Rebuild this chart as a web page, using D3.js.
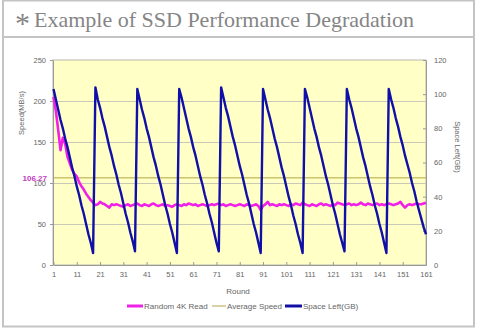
<!DOCTYPE html>
<html>
<head>
<meta charset="utf-8">
<script src="https://cdn.jsdelivr.net/npm/d3@7"></script>
<style>
body{margin:0;background:#fff;}
</style>
</head>
<body>
<script>
// rounds 1..161
var rounds = d3.range(1, 162)

// Random 4K Read speed (MB/s), one value per round
var speed = [205,188,165,140,155,148,132,124,116,111,
  108,101,96,92,87,83,79,76,73,74,
  77,75,74,72,70,74,73,74,73,72,
  71,73,74,72,73,74,75,73,72,74,
  73,72,74,75,73,72,73,74,72,73,
  72,71,73,74,73,72,74,73,75,74,
  73,74,72,73,74,73,72,73,74,73,
  74,75,73,74,72,73,74,73,72,73,
  74,73,72,74,73,72,73,74,72,67,
  72,74,77,73,74,73,72,74,73,74,
  73,72,74,73,75,74,73,76,74,73,
  72,74,73,72,74,75,73,74,73,72,
  74,73,76,75,74,73,74,75,73,74,
  73,74,76,74,73,75,74,73,74,75,
  73,74,73,74,75,74,73,74,75,77,
  73,70,73,74,73,74,75,74,74,75,
  76]

// Space left (GB), one value per round
var spaceLeft = [103,97,91,85,80,74,69,63,57,52,46,41,35,30,24,18,13,7,
  104,97,92,86,81,75,69,64,58,53,47,42,36,30,25,19,14,8,
  103,97,91,86,80,75,69,63,58,52,47,41,35,30,24,19,13,7,
  103,98,92,86,80,75,69,64,58,52,47,41,36,30,25,19,13,8,
  104,98,92,87,81,75,70,64,58,53,47,41,36,30,24,19,13,7,
  103,97,91,86,80,74,69,63,57,52,46,40,35,29,24,18,13,7,
  103,98,92,86,80,75,69,64,58,52,47,41,35,30,24,18,13,8,
  103,97,92,86,80,75,69,63,58,52,46,41,35,30,24,19,13,7,
  103,97,92,86,81,75,70,64,59,54,48,43,37,32,27,22,18]

var averageSpeed = 106.27
var speedTicks = [0,50,100,150,200,250]
var spaceTicks = [0,20,40,60,80,100,120]
var roundTicks = [1,11,21,31,41,51,61,71,81,91,101,111,121,131,141,151,161]

var W = 480, H = 328
var plot = {left:53, right:426, top:60, bottom:265}
var font = "'Liberation Sans', Arial, sans-serif"

var svg = d3.select('body').append('svg')
  .attr('width', W).attr('height', H)

svg.append('rect').attr('width', W).attr('height', H).attr('fill', '#fff')

// frame
svg.append('rect')
  .attr('x', 3).attr('y', 0.5).attr('width', 471).attr('height', 326)
  .attr('fill', 'none').attr('stroke', '#c4c4c4').attr('stroke-width', 2)
svg.append('line')
  .attr('x1', 3).attr('x2', 474).attr('y1', 37).attr('y2', 37)
  .attr('stroke', '#c4c4c4').attr('stroke-width', 2)

// title
svg.append('text')
  .attr('x', 15).attr('y', 33)
  .attr('font-family', "'Liberation Serif', 'Times New Roman', serif")
  .attr('font-size', 30).attr('fill', '#858585')
  .text('*')
svg.append('text')
  .attr('x', 34).attr('y', 27)
  .attr('font-family', "'Liberation Serif', 'Times New Roman', serif")
  .attr('font-size', 22).attr('fill', '#858585')
  .text('Example of SSD Performance Degradation')

var x = d3.scaleLinear().domain([1, 161]).range([plot.left + 0.5, plot.right])
var yL = d3.scaleLinear().domain([0, 250]).range([plot.bottom, plot.top])
var yR = d3.scaleLinear().domain([0, 120]).range([plot.bottom, plot.top])

svg.append('rect')
  .attr('x', plot.left).attr('y', plot.top)
  .attr('width', plot.right - plot.left).attr('height', plot.bottom - plot.top)
  .attr('fill', '#ffffc6').attr('stroke', '#b8b8b0').attr('stroke-width', 1)

// gridlines
svg.selectAll('.grid').data(speedTicks.slice(1, -1)).enter().append('line')
  .attr('class', 'grid')
  .attr('x1', plot.left).attr('x2', plot.right)
  .attr('y1', function(d){ return Math.round(yL(d)) + 0.5 })
  .attr('y2', function(d){ return Math.round(yL(d)) + 0.5 })
  .attr('stroke', '#c9c9b8').attr('stroke-width', 1)

// average speed
svg.append('line')
  .attr('x1', plot.left).attr('x2', plot.right)
  .attr('y1', yL(averageSpeed)).attr('y2', yL(averageSpeed))
  .attr('stroke', '#b5a545').attr('stroke-width', 1)

function styleAxis(g){
  g.select('.domain').attr('stroke', '#999')
  g.selectAll('.tick line').attr('stroke', '#999')
  g.selectAll('text').attr('fill', '#666').attr('font-family', font).attr('font-size', 7.5)
}

var leftAxis = svg.append('g')
  .attr('transform', 'translate(' + plot.left + ',0)')
  .call(d3.axisLeft(yL).tickValues(speedTicks).tickSize(3).tickSizeOuter(0).tickPadding(4))
styleAxis(leftAxis)

var rightAxis = svg.append('g')
  .attr('transform', 'translate(' + plot.right + ',0)')
  .call(d3.axisRight(yR).tickValues(spaceTicks).tickSize(-3).tickSizeOuter(0).tickPadding(8))
styleAxis(rightAxis)

var bottomAxis = svg.append('g')
  .attr('transform', 'translate(0,' + plot.bottom + ')')
  .call(d3.axisBottom(x).tickValues(roundTicks).tickSize(-3).tickSizeOuter(0).tickPadding(7))
styleAxis(bottomAxis)

// series
var speedLine = d3.line()
  .x(function(d, i){ return x(rounds[i]) })
  .y(function(d){ return yL(d) })
var spaceLine = d3.line()
  .x(function(d, i){ return x(rounds[i]) })
  .y(function(d){ return yR(d) })

svg.append('path').datum(speed)
  .attr('d', speedLine)
  .attr('fill', 'none').attr('stroke', '#f020e8').attr('stroke-width', 2.6)
  .attr('stroke-linejoin', 'round')

svg.append('path').datum(spaceLeft)
  .attr('d', spaceLine)
  .attr('fill', 'none').attr('stroke', '#1010a8').attr('stroke-width', 2.4)
  .attr('stroke-linejoin', 'round')

// average label
svg.append('text')
  .attr('x', 47).attr('y', yL(averageSpeed) + 3)
  .attr('text-anchor', 'end')
  .attr('font-family', font).attr('font-size', 8).attr('font-weight', 'bold')
  .attr('fill', '#c040c0')
  .text(averageSpeed.toFixed(2))

// axis titles
svg.append('text')
  .attr('transform', 'translate(24,113) rotate(-90)')
  .attr('text-anchor', 'middle')
  .attr('font-family', font).attr('font-size', 7.5).attr('fill', '#666')
  .text('Speed(MB/s)')
svg.append('text')
  .attr('transform', 'translate(455,147) rotate(90)')
  .attr('text-anchor', 'middle')
  .attr('font-family', font).attr('font-size', 7.5).attr('fill', '#666')
  .text('Space Left(GB)')
svg.append('text')
  .attr('x', 238).attr('y', 294)
  .attr('text-anchor', 'middle')
  .attr('font-family', font).attr('font-size', 8).attr('fill', '#666')
  .text('Round')

// legend
var legendItems = [
  {name:'Random 4K Read', color:'#f020e8', w:3, x:127, len:16},
  {name:'Average Speed', color:'#b5a545', w:1, x:212, len:14},
  {name:'Space Left(GB)', color:'#1010a8', w:3, x:285, len:17}
]
var legend = svg.selectAll('.legend').data(legendItems).enter().append('g')
  .attr('class', 'legend')
  .attr('transform', function(d){ return 'translate(' + d.x + ',306)' })
legend.append('line')
  .attr('x1', 0).attr('x2', function(d){ return d.len })
  .attr('stroke', function(d){ return d.color })
  .attr('stroke-width', function(d){ return d.w })
legend.append('text')
  .attr('x', function(d){ return d.len + 1 }).attr('y', 3)
  .attr('font-family', font).attr('font-size', 8).attr('fill', '#666')
  .text(function(d){ return d.name })
</script>
</body>
</html>
